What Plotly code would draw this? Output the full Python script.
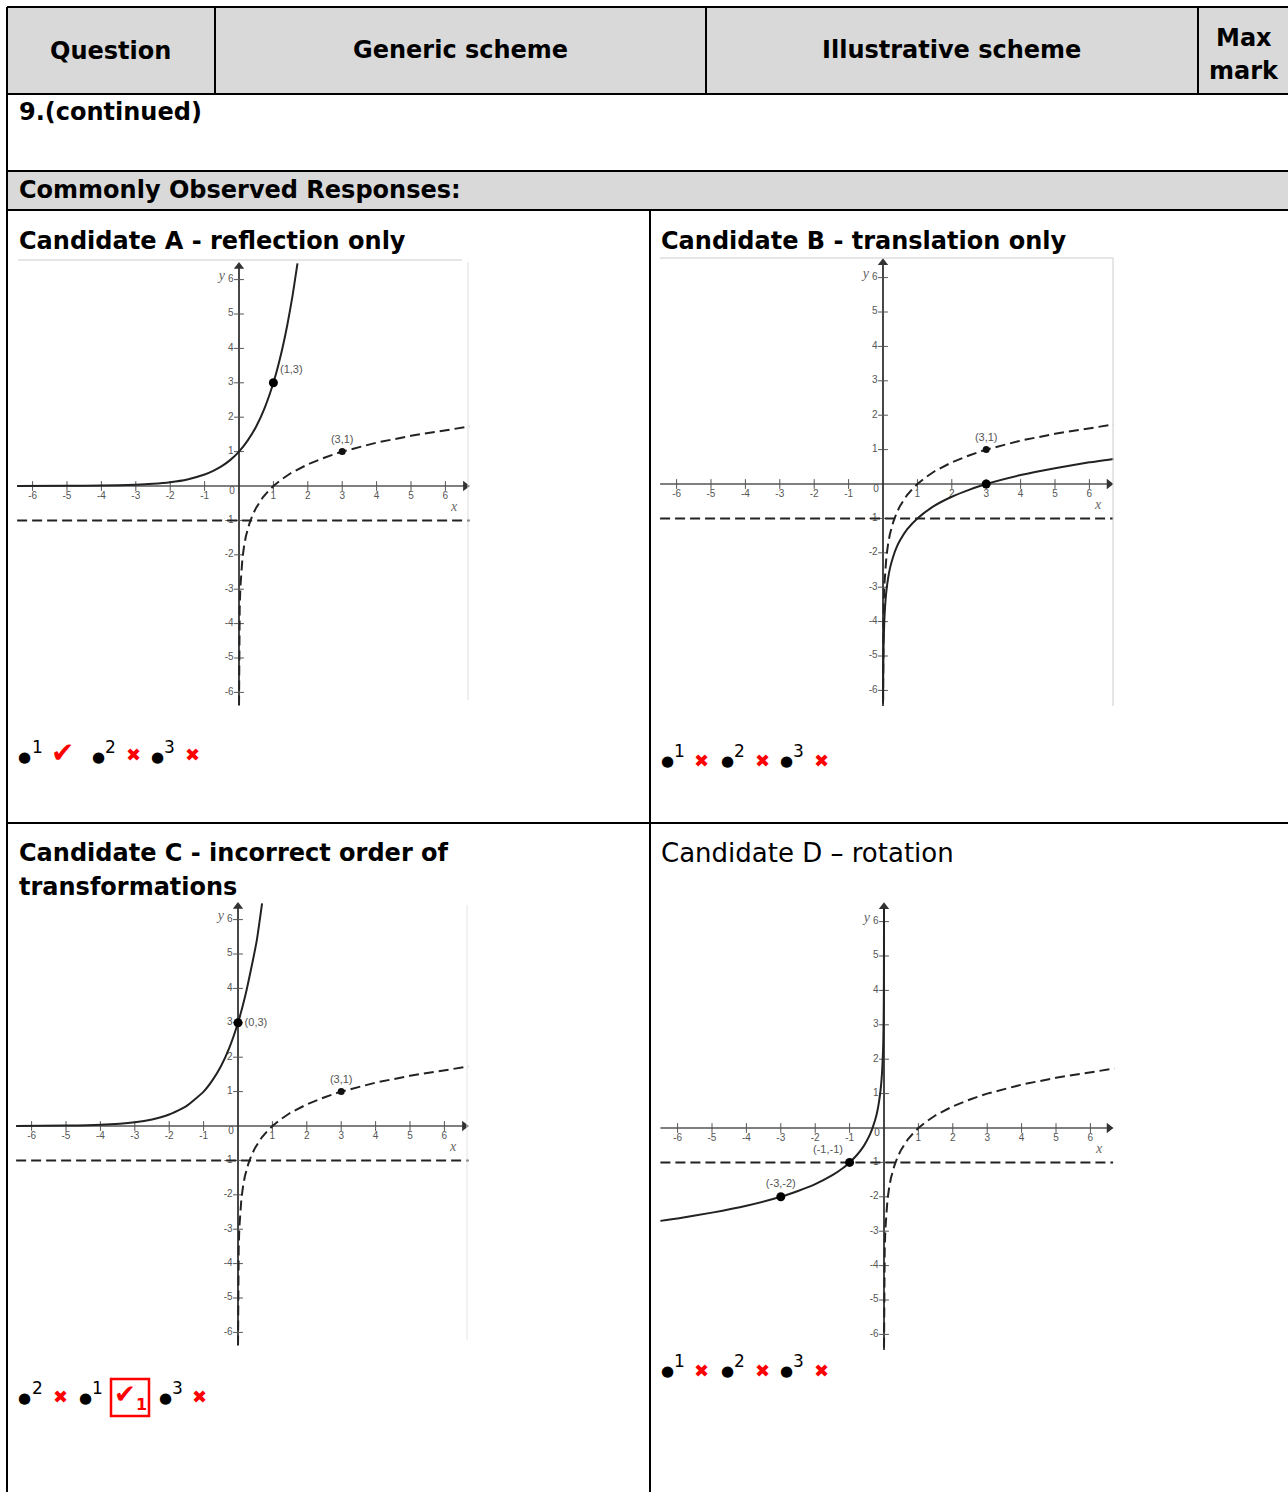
import plotly.graph_objects as go

W, H = 1288, 1492

# ---------------- data ----------------
tick_values = [-6, -5, -4, -3, -2, -1, 1, 2, 3, 4, 5, 6]
tick_labels = ["-6", "-5", "-4", "-3", "-2", "-1", "1", "2", "3", "4", "5", "6"]

# dashed curve shown in every panel (passes through (1,0) and (3,1))
ref_x = [0.0009, 0.002, 0.005, 0.01, 0.02, 0.04, 0.07, 0.1, 0.15, 0.2, 0.3, 0.4,
         0.5, 0.6, 0.7, 0.85, 1.0, 1.25, 1.5, 2.0, 2.5, 3.0, 3.5, 4.0, 5.0, 6.0, 6.7]
ref_y = [-6.38, -5.66, -4.82, -4.19, -3.56, -2.93, -2.42, -2.10, -1.73, -1.46, -1.10, -0.83,
         -0.63, -0.46, -0.32, -0.15, 0.0, 0.20, 0.37, 0.63, 0.83, 1.0, 1.14, 1.26, 1.46, 1.63, 1.73]
asym_y = -1  # horizontal dashed line

# Candidate A - reflection only
a_x = [-6.45, -5.0, -4.0, -3.0, -2.5, -2.0, -1.5, -1.0, -0.75, -0.5, -0.25, 0.0, 0.25,
       0.5, 0.75, 1.0, 1.2, 1.4, 1.55, 1.7]
a_y = [0.001, 0.004, 0.012, 0.037, 0.064, 0.111, 0.192, 0.333, 0.44, 0.577, 0.76, 1.0, 1.32,
       1.73, 2.28, 3.0, 3.74, 4.66, 5.49, 6.47]
a_big_x, a_big_y, a_big_lbl = [1], [3], ["(1,3)"]

# Candidate B - translation only
b_x = [0.003, 0.005, 0.01, 0.02, 0.04, 0.07, 0.1, 0.15, 0.2, 0.3, 0.4, 0.5, 0.7, 1.0,
       1.5, 2.0, 2.5, 3.0, 4.0, 5.0, 6.0, 6.7]
b_y = [-6.29, -5.82, -5.19, -4.56, -3.93, -3.42, -3.10, -2.73, -2.46, -2.10, -1.83, -1.63,
       -1.32, -1.0, -0.63, -0.37, -0.17, 0.0, 0.26, 0.46, 0.63, 0.73]
b_big_x, b_big_y = [3], [0]

# Candidate C - incorrect order of transformations
c_x = [-6.45, -5.0, -4.0, -3.0, -2.5, -2.0, -1.5, -1.0, -0.75, -0.5, -0.25, 0.0, 0.2,
       0.4, 0.55, 0.7]
c_y = [0.0025, 0.012, 0.037, 0.111, 0.192, 0.333, 0.577, 1.0, 1.32, 1.73, 2.28, 3.0, 3.74,
       4.66, 5.42, 6.47]
c_big_x, c_big_y, c_big_lbl = [0], [3], ["(0,3)"]

# Candidate D - rotation
d_x = [-6.5, -6.0, -5.0, -4.0, -3.0, -2.5, -2.0, -1.5, -1.2, -1.0, -0.8, -0.6, -0.5, -0.4,
       -0.33, -0.25, -0.2, -0.15, -0.1, -0.07, -0.05, -0.03, -0.02, -0.01, -0.006, -0.004,
       -0.002, -0.001, -0.0003]
d_y = [-2.70, -2.63, -2.46, -2.26, -2.0, -1.83, -1.63, -1.37, -1.17, -1.0, -0.80, -0.54,
       -0.37, -0.17, 0.01, 0.26, 0.46, 0.73, 1.10, 1.42, 1.73, 2.19, 2.56, 3.19, 3.66, 4.03,
       4.66, 5.29, 6.38]
d_big_x, d_big_y, d_big_lbl = [-1, -3], [-1, -2], ["(-1,-1)", "(-3,-2)"]

ref_pt_x, ref_pt_y, ref_pt_lbl = [3], [1], ["(3,1)"]

# ---------------- layout helpers ----------------
U = 34.4  # pixels per unit in the graphs
panels = {
    "A": dict(ox=239, oy=486, ax0=-6.45, ax1=6.7, ay0=-6.25, ay1=6.5),
    "B": dict(ox=883, oy=484, ax0=-6.48, ax1=6.69, ay0=-6.45, ay1=6.55),
    "C": dict(ox=238, oy=1126, ax0=-6.45, ax1=6.7, ay0=-6.25, ay1=6.5),
    "D": dict(ox=884, oy=1128, ax0=-6.5, ax1=6.66, ay0=-6.45, ay1=6.55),
}
PAD = 0.3


def px(x):
    return x / W


def py(y):
    return 1 - y / H


fig = go.Figure()
layout_axes = {}
AX_COLOR = "#555555"
CURVE = "#222222"
LBL = "#555555"

for i, (name, p) in enumerate(panels.items(), start=1):
    xr = [p["ax0"] - PAD, p["ax1"] + PAD]
    yr = [p["ay0"] - PAD, p["ay1"] + PAD]
    dx = [px(p["ox"] + xr[0] * U), px(p["ox"] + xr[1] * U)]
    dy = [py(p["oy"] - yr[0] * U), py(p["oy"] - yr[1] * U)]
    sx = "" if i == 1 else str(i)
    layout_axes["xaxis" + sx] = dict(domain=dx, range=xr, visible=False, fixedrange=True)
    layout_axes["yaxis" + sx] = dict(domain=dy, range=yr, visible=False, fixedrange=True)
    xa, ya = "x" + sx, "y" + sx
    p["xa"], p["ya"] = xa, ya

    # axes lines
    fig.add_trace(go.Scatter(x=[p["ax0"], p["ax1"] - 0.15], y=[0, 0], mode="lines",
                             line=dict(color=AX_COLOR, width=1.4), xaxis=xa, yaxis=ya,
                             hoverinfo="skip"))
    fig.add_trace(go.Scatter(x=[0, 0], y=[p["ay0"], p["ay1"] - 0.15], mode="lines",
                             line=dict(color="#333333", width=1.8), xaxis=xa, yaxis=ya,
                             hoverinfo="skip"))
    # arrow heads
    fig.add_trace(go.Scatter(x=[p["ax1"] - 0.12], y=[0], mode="markers",
                             marker=dict(symbol="triangle-right", size=9, color="#333333"),
                             xaxis=xa, yaxis=ya, hoverinfo="skip"))
    fig.add_trace(go.Scatter(x=[0], y=[p["ay1"] - 0.12], mode="markers",
                             marker=dict(symbol="triangle-up", size=9, color="#333333"),
                             xaxis=xa, yaxis=ya, hoverinfo="skip"))
    # ticks + tick labels
    fig.add_trace(go.Scatter(x=tick_values, y=[0] * len(tick_values), mode="markers+text",
                             marker=dict(symbol="line-ns-open", size=7, color=AX_COLOR,
                                         line=dict(color=AX_COLOR, width=1)),
                             text=tick_labels, textposition="bottom center",
                             textfont=dict(size=10, color=LBL, family="Liberation Sans"),
                             xaxis=xa, yaxis=ya, hoverinfo="skip"))
    fig.add_trace(go.Scatter(x=[0] * len(tick_values), y=tick_values, mode="markers+text",
                             marker=dict(symbol="line-ew-open", size=7, color=AX_COLOR,
                                         line=dict(color=AX_COLOR, width=1)),
                             text=tick_labels, textposition="middle left",
                             textfont=dict(size=10, color=LBL, family="Liberation Sans"),
                             xaxis=xa, yaxis=ya, hoverinfo="skip"))
    fig.add_trace(go.Scatter(x=[-0.12], y=[-0.02], mode="text", text=["0"],
                             textposition="bottom left",
                             textfont=dict(size=10, color=LBL, family="Liberation Sans"),
                             xaxis=xa, yaxis=ya, hoverinfo="skip"))
    # axis names
    fig.add_trace(go.Scatter(x=[6.25, -0.5], y=[-0.62, 6.1], mode="text", text=["x", "y"],
                             textfont=dict(size=14, color="#666666", family="Liberation Serif"),
                             texttemplate="<i>%{text}</i>",
                             xaxis=xa, yaxis=ya, hoverinfo="skip"))
    # horizontal dashed line
    fig.add_trace(go.Scatter(x=[p["ax0"], p["ax1"]], y=[asym_y, asym_y], mode="lines",
                             line=dict(color=CURVE, width=2, dash="10px,5px"),
                             xaxis=xa, yaxis=ya, hoverinfo="skip"))
    # dashed reference curve
    fig.add_trace(go.Scatter(x=ref_x, y=ref_y, mode="lines",
                             line=dict(color=CURVE, width=2, dash="10px,5px"),
                             xaxis=xa, yaxis=ya, hoverinfo="skip"))

solid = {"A": (a_x, a_y), "B": (b_x, b_y), "C": (c_x, c_y), "D": (d_x, d_y)}
for name, (sx_, sy_) in solid.items():
    p = panels[name]
    fig.add_trace(go.Scatter(x=sx_, y=sy_, mode="lines",
                             line=dict(color=CURVE, width=2, shape="spline", smoothing=0.5),
                             xaxis=p["xa"], yaxis=p["ya"], hoverinfo="skip"))

# reference point (3,1) in A, B, C
for name in ["A", "B", "C"]:
    p = panels[name]
    fig.add_trace(go.Scatter(x=ref_pt_x, y=ref_pt_y, mode="markers+text",
                             marker=dict(size=7, color="#111111"),
                             text=ref_pt_lbl, textposition="top center",
                             textfont=dict(size=11, color=LBL, family="Liberation Sans"),
                             xaxis=p["xa"], yaxis=p["ya"], hoverinfo="skip"))

big = {
    "A": (a_big_x, a_big_y, a_big_lbl, ["top right"]),
    "B": (b_big_x, b_big_y, None, None),
    "C": (c_big_x, c_big_y, c_big_lbl, ["middle right"]),
    "D": (d_big_x, d_big_y, d_big_lbl, ["top left", "top center"]),
}
for name, (bx, by, bl, pos) in big.items():
    p = panels[name]
    fig.add_trace(go.Scatter(x=bx, y=by, mode="markers+text" if bl else "markers",
                             marker=dict(size=9, color="#000000"),
                             text=bl, textposition=pos or "top center",
                             textfont=dict(size=11, color=LBL, family="Liberation Sans"),
                             xaxis=p["xa"], yaxis=p["ya"], hoverinfo="skip"))

# ---------------- table ----------------
shapes = []


def rect(x0, y0, x1, y1, fill):
    shapes.append(dict(type="rect", xref="paper", yref="paper", x0=px(x0), x1=px(x1),
                       y0=py(y1), y1=py(y0), fillcolor=fill, line=dict(width=0),
                       layer="below"))


def hline(y, x0, x1, color="black", width=2):
    shapes.append(dict(type="line", xref="paper", yref="paper", x0=px(x0), x1=px(x1),
                       y0=py(y), y1=py(y), line=dict(color=color, width=width)))


def vline(x, y0, y1, color="black", width=2):
    shapes.append(dict(type="line", xref="paper", yref="paper", x0=px(x), x1=px(x),
                       y0=py(y0), y1=py(y1), line=dict(color=color, width=width)))


rect(7, 7, W, 94, "#d9d9d9")
rect(7, 171, W, 210, "#d9d9d9")
hline(7, 7, W)
hline(94, 7, W)
hline(171, 7, W)
hline(210, 7, W)
hline(823, 7, W)
vline(7, 7, H)
vline(215, 7, 94)
vline(706, 7, 94)
vline(1198, 7, 94)
vline(650, 210, H)
# faint picture frames
hline(260, 18, 462, color="#cccccc", width=1)
vline(468, 262, 700, color="#dddddd", width=1)
hline(258, 660, 1113, color="#cccccc", width=1)
vline(1113, 258, 706, color="#cccccc", width=1)
vline(467, 905, 1340, color="#e4e4e4", width=1)
# boxed tick
shapes.append(dict(type="rect", xref="paper", yref="paper", x0=px(111), x1=px(149),
                   y0=py(1416), y1=py(1379), line=dict(color="#ff0000", width=2.5)))

ann = []
BF = "DejaVu Sans"


def text(x, y, s, size=24, bold=True, anchor="left", color="black", family=BF):
    ann.append(dict(x=px(x), y=py(y), xref="paper", yref="paper", text=(f"<b>{s}</b>" if bold else s),
                    showarrow=False, xanchor=anchor, yanchor="middle",
                    font=dict(size=size, color=color, family=family)))


text(110, 51, "Question", anchor="center")
text(460, 50, "Generic scheme", anchor="center")
text(951, 50, "Illustrative scheme", anchor="center")
text(1244, 38, "Max", anchor="center")
text(1244, 71, "mark", anchor="center")
text(17, 112, "9.(continued)")
text(17, 190, "Commonly Observed Responses:")
text(17, 241, "Candidate A - reflection only")
text(659, 241, "Candidate B - translation only")
text(17, 853, "Candidate C - incorrect order of")
text(17, 887, "transformations")
text(659, 853, "Candidate D \u2013 rotation", size=26, bold=False)

RED = "#ff0000"


def dot(x, y, sup):
    text(x, y + 1, "\u25cf", size=15, bold=False, anchor="center")
    text(x + 5, y - 9, sup, size=17, bold=False, anchor="left")


def cross(x, y):
    text(x, y, "\u2716", size=18, bold=False, anchor="center", color=RED)


def check(x, y):
    text(x, y - 2, "\u2714", size=28, bold=False, anchor="center", color=RED)


# Candidate A marks
dot(25, 756, "1"); check(62, 754)
dot(98, 756, "2"); cross(133, 755)
dot(157, 756, "3"); cross(192, 755)
# Candidate B and D marks
for base_y in (760, 1370):
    dot(667, base_y, "1"); cross(702, base_y)
    dot(727, base_y, "2"); cross(762, base_y)
    dot(786, base_y, "3"); cross(821, base_y)
# Candidate C marks
dot(25, 1397, "2"); cross(60, 1396)
dot(85, 1397, "1")
text(125, 1394, "\u2714", size=26, bold=False, anchor="center", color=RED)
text(141, 1404, "<b>1</b>", size=16, bold=False, anchor="center", color=RED)
dot(165, 1397, "3"); cross(200, 1396)

fig.update_layout(width=W, height=H, margin=dict(l=0, r=0, t=0, b=0),
                  paper_bgcolor="white", plot_bgcolor="rgba(0,0,0,0)",
                  showlegend=False, shapes=shapes, annotations=ann, **layout_axes)

fig.write_html("out.html", config={"displayModeBar": False},
               post_script="document.body.style.margin='0';document.body.style.overflow='hidden';")
